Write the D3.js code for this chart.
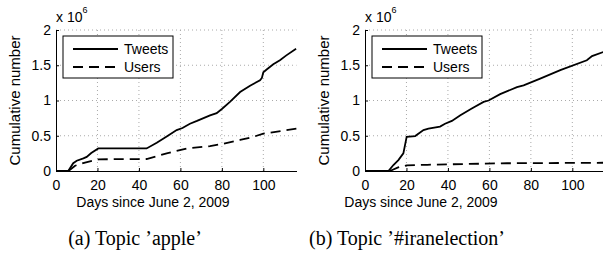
<!DOCTYPE html>
<html>
<head>
<meta charset="utf-8">
<script src="https://cdn.jsdelivr.net/npm/d3@7"></script>
<style>
  body { margin: 0; background: #fff; }
  svg { display: block; }
  svg text { font-family: "Liberation Sans", Arial, Helvetica, sans-serif; fill: #000; }
  .axis path, .axis line { stroke: #000; stroke-width: 1; }
  .axis text { font-size: 14px; }
  .grid line { stroke: #aaa; stroke-dasharray: 1,3; }
  svg text.caption { font-family: "Liberation Serif", "Times New Roman", serif; font-size: 20px; }
</style>
</head>
<body>
<svg id="fig" width="603" height="270"></svg>
<script>
// shared ticks
const xTicks = [0, 20, 40, 60, 80, 100];
const yTicks = [0, 0.5e6, 1e6, 1.5e6, 2e6];
const seriesNames = ["Tweets", "Users"];

// (a) Topic 'apple'
const appleTweetDays = [0, 5.9, 8.3, 10, 13.2, 14.8, 17, 20.4, 30, 43.7, 48.6, 53.4, 58.2, 61, 64.6, 68, 74.3, 77.5, 80, 83.9, 88.8, 93.6, 98.4, 99.3, 100, 101.6, 104.8, 108, 111.1, 115.8];
const appleTweets = [0, 0, 110e3, 145e3, 180e3, 200e3, 255e3, 320e3, 320e3, 320e3, 400e3, 490e3, 580e3, 610e3, 670e3, 710e3, 790e3, 820e3, 880e3, 980e3, 1120e3, 1210e3, 1285e3, 1320e3, 1400e3, 1440e3, 1515e3, 1570e3, 1640e3, 1735e3];
const appleUserDays = [6, 9.2, 14, 20.4, 30, 43.7, 53.4, 63, 74.3, 79, 88.8, 95.2, 100, 116];
const appleUsers = [0, 75e3, 120e3, 165e3, 168e3, 170e3, 250e3, 320e3, 353e3, 377e3, 440e3, 485e3, 530e3, 600e3];

// (b) Topic '#iranelection'
const iranTweetDays = [0, 11.3, 13.7, 16.1, 18.5, 20.1, 24.2, 28.2, 30.6, 36.2, 38.6, 41.9, 46, 51.5, 57.2, 59.6, 65.2, 73.3, 76.5, 84.5, 94.2, 107, 109.5, 115.1];
const iranTweets = [0, 0, 85e3, 155e3, 250e3, 485e3, 495e3, 580e3, 600e3, 630e3, 670e3, 710e3, 790e3, 886e3, 980e3, 1000e3, 1090e3, 1190e3, 1215e3, 1310e3, 1430e3, 1570e3, 1630e3, 1690e3];
const iranUserDays = [12, 16, 20.1, 30, 41, 68.5, 115];
const iranUsers = [0, 50e3, 80e3, 88e3, 95e3, 110e3, 117e3];

class CumulativeChart {
  constructor(_config, _data) {
    this.config = {
      parentElement: _config.parentElement,
      left: _config.left,
      top: _config.top || 30,
      width: _config.width || 240.5,
      height: _config.height || 141,
      caption: _config.caption,
      captionX: _config.captionX,
      labelX: _config.labelX
    };
    this.data = _data;
    this.initVis();
  }

  initVis() {
    let vis = this;
    const c = vis.config;

    vis.xScale = d3.scaleLinear().domain([0, 116]).range([0, c.width]);
    vis.yScale = d3.scaleLinear().domain([0, 2e6]).range([c.height, 0]);

    vis.svg = d3.select(c.parentElement);
    vis.chart = vis.svg.append("g")
      .attr("transform", `translate(${c.left},${c.top})`);

    // dotted grid
    const grid = vis.chart.append("g").attr("class", "grid");
    grid.selectAll(".vg")
      .data(xTicks.filter(d => d > 0))
      .join("line")
      .attr("x1", d => vis.xScale(d)).attr("x2", d => vis.xScale(d))
      .attr("y1", 0).attr("y2", c.height);
    grid.selectAll(".hg")
      .data(yTicks.filter(d => d > 0))
      .join("line")
      .attr("x1", 0).attr("x2", c.width)
      .attr("y1", d => vis.yScale(d)).attr("y2", d => vis.yScale(d));

    vis.xAxis = d3.axisBottom(vis.xScale).tickValues(xTicks)
      .tickSizeInner(-3).tickSizeOuter(0).tickPadding(9);
    vis.yAxis = d3.axisLeft(vis.yScale).tickValues(yTicks)
      .tickFormat(d => d / 1e6).tickSizeInner(-3).tickSizeOuter(0).tickPadding(5);

    vis.xAxisG = vis.chart.append("g")
      .attr("class", "axis x-axis")
      .attr("transform", `translate(0,${c.height})`);
    vis.yAxisG = vis.chart.append("g").attr("class", "axis y-axis");

    // exponent label
    const expo = vis.chart.append("text")
      .attr("x", 0).attr("y", -8)
      .attr("font-size", 14);
    expo.append("tspan").text("x 10");
    expo.append("tspan").attr("dy", -9).attr("font-size", 9).text("6");

    // axis titles
    vis.svg.append("text")
      .attr("transform", `translate(${c.left - 36},${c.top + c.height / 2}) rotate(-90)`)
      .attr("text-anchor", "middle")
      .attr("font-size", 15)
      .text("Cumulative number");
    vis.svg.append("text")
      .attr("x", c.labelX).attr("y", 207)
      .attr("text-anchor", "middle")
      .attr("font-size", 14)
      .text("Days since June 2, 2009");

    vis.svg.append("text")
      .attr("class", "caption")
      .attr("x", c.captionX).attr("y", 245)
      .attr("text-anchor", "middle")
      .text(c.caption);

    vis.line = d3.line()
      .x(d => vis.xScale(d.day))
      .y(d => vis.yScale(d.value));

    vis.updateVis();
  }

  updateVis() {
    let vis = this;
    vis.series = [
      { key: "Tweets", dash: null, values: vis.data.tweetDays.map((d, i) => ({ day: d, value: vis.data.tweets[i] })) },
      { key: "Users", dash: "10,6", values: vis.data.userDays.map((d, i) => ({ day: d, value: vis.data.users[i] })) }
    ];
    vis.renderVis();
  }

  renderVis() {
    let vis = this;

    vis.chart.selectAll(".series")
      .data(vis.series, d => d.key)
      .join("path")
      .attr("class", "series")
      .attr("fill", "none")
      .attr("stroke", "#000")
      .attr("stroke-width", 1.8)
      .attr("stroke-dasharray", d => d.dash)
      .attr("d", d => vis.line(d.values));

    vis.xAxisG.call(vis.xAxis);
    vis.yAxisG.call(vis.yAxis);

    // legend
    const legend = vis.chart.append("g").attr("transform", "translate(7,6)");
    legend.append("rect")
      .attr("width", 110).attr("height", 42)
      .attr("fill", "#fff").attr("stroke", "#000");
    const item = legend.selectAll(".item")
      .data(vis.series)
      .join("g")
      .attr("class", "item")
      .attr("transform", (d, i) => `translate(0,${13 + i * 18})`);
    item.append("line")
      .attr("x1", 10).attr("x2", 55)
      .attr("stroke", "#000").attr("stroke-width", 1.8)
      .attr("stroke-dasharray", d => d.dash);
    item.append("text")
      .attr("x", 61).attr("dy", "0.35em")
      .attr("font-size", 14)
      .text(d => d.key);
  }
}

new CumulativeChart(
  { parentElement: "#fig", left: 56, caption: "(a) Topic \u2019apple\u2019", captionX: 135, labelX: 153 },
  { tweetDays: appleTweetDays, tweets: appleTweets, userDays: appleUserDays, users: appleUsers }
);
new CumulativeChart(
  { parentElement: "#fig", left: 365, caption: "(b) Topic \u2019#iranelection\u2019", captionX: 407, labelX: 421 },
  { tweetDays: iranTweetDays, tweets: iranTweets, userDays: iranUserDays, users: iranUsers }
);
</script>
</body>
</html>
